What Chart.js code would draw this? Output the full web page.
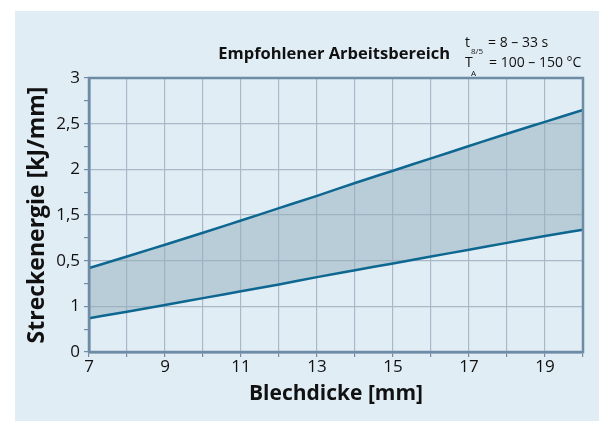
<!DOCTYPE html>
<html>
<head>
<meta charset="utf-8">
<script src="https://cdn.jsdelivr.net/npm/chart.js@4/dist/chart.umd.min.js"></script>
<style>
  html, body { margin: 0; padding: 0; background: #fff; }
  #panel { position: absolute; left: 15px; top: 11px; width: 584px; height: 410px; background: #e1edf5; }
</style>
</head>
<body>
<div id="panel"><canvas id="chart" width="584" height="410"></canvas></div>
<script>
// Blechdicke in mm
var thickness = [7, 8, 9, 10, 11, 12, 13, 14, 15, 16, 17, 18, 19, 20];
// Streckenergie, untere und obere Grenze (kJ/mm)
var lowerLimit = [0.37, 0.44, 0.515, 0.59, 0.665, 0.74, 0.82, 0.895, 0.97, 1.045, 1.12, 1.195, 1.27, 1.34];
var upperLimit = [0.92, 1.045, 1.175, 1.305, 1.44, 1.575, 1.71, 1.85, 1.985, 2.12, 2.255, 2.39, 2.52, 2.65];
// tick labels as printed in the chart
var xTickLabels = ['7', '9', '11', '13', '15', '17', '19'];
var yTickValues = [0, 0.5, 1, 1.5, 2, 2.5, 3];
var yTickLabels = ['0', '1', '0,5', '1,5', '2', '2,5', '3'];

var FONT = '"Open Sans", sans-serif';
var axisColor = '#6e8ca6';
var gridColor = '#a9b9c7';
var lineColor = '#0d6790';

function pts(ys) {
    return thickness.map(function (x, i) { return { x: x, y: ys[i] }; });
}

var frame = {
    id: 'frame',
    afterDatasetsDraw: function (chart) {
        var a = chart.chartArea, c = chart.ctx;
        c.save();
        c.strokeStyle = axisColor;
        c.lineWidth = 2.5;
        c.strokeRect(a.left, a.top, a.right - a.left, a.bottom - a.top);
        c.restore();
    },
    afterDraw: function (chart) {
        var c = chart.ctx;
        c.save();
        c.fillStyle = '#111';
        c.textBaseline = 'alphabetic';
        c.textAlign = 'right';
        c.font = 'bold 16.5px ' + FONT;
        c.fillText('Empfohlener Arbeitsbereich', 435, 48);
        c.textAlign = 'left';
        c.font = '14px ' + FONT;
        c.fillText('t', 450, 36);
        c.fillText('= 8 \u2013 33 s', 473, 36);
        c.fillText('T', 450, 56);
        c.fillText('= 100 \u2013 150 \u00b0C', 474, 56);
        c.font = '8px ' + FONT;
        c.fillText('8/5', 456, 43);
        c.fillText('A', 456, 65);
        c.restore();
    }
};

var ctx = document.getElementById('chart').getContext('2d');
var myChart = new Chart(ctx, {
    type: 'line',
    data: {
        datasets: [{
            label: 'untere Grenze',
            data: pts(lowerLimit),
            borderColor: lineColor,
            borderWidth: 2.5,
            pointRadius: 0,
            cubicInterpolationMode: 'monotone',
            fill: false
        }, {
            label: 'obere Grenze',
            data: pts(upperLimit),
            borderColor: lineColor,
            borderWidth: 2.5,
            pointRadius: 0,
            cubicInterpolationMode: 'monotone',
            fill: '-1',
            backgroundColor: 'rgba(145, 173, 187, 0.5)'
        }]
    },
    options: {
        responsive: false,
        animation: false,
        layout: { padding: { top: 67, right: 16, left: 0, bottom: 0 } },
        plugins: { legend: { display: false }, tooltip: { enabled: false } },
        scales: {
            x: {
                type: 'linear',
                min: 7,
                max: 20,
                ticks: {
                    stepSize: 1,
                    padding: 0,
                    color: '#111',
                    font: { family: FONT, size: 17 },
                    maxRotation: 0,
                    autoSkip: false,
                    callback: function (value) {
                        var s = String(value);
                        return xTickLabels.indexOf(s) >= 0 ? s : '';
                    }
                },
                grid: { color: gridColor, lineWidth: 1.2, tickLength: 5, tickColor: axisColor },
                border: { color: axisColor, width: 2.5 },
                title: {
                    display: true,
                    text: 'Blechdicke [mm]',
                    color: '#111',
                    font: { family: FONT, size: 21, weight: 'bold' },
                    padding: { top: 0, bottom: 14 }
                },
                afterFit: function (scale) { scale.height = 69; }
            },
            y: {
                min: 0,
                max: 3,
                ticks: {
                    stepSize: 0.25,
                    padding: 4,
                    color: '#111',
                    font: { family: FONT, size: 17 },
                    autoSkip: false,
                    callback: function (value) {
                        var i = yTickValues.indexOf(value);
                        return i >= 0 ? yTickLabels[i] : '';
                    }
                },
                grid: {
                    color: function (c) {
                        return c.tick && yTickValues.indexOf(c.tick.value) >= 0 ? gridColor : 'rgba(0,0,0,0)';
                    },
                    lineWidth: 1.2,
                    tickLength: 5,
                    tickColor: axisColor
                },
                border: { color: axisColor, width: 2.5 },
                title: {
                    display: true,
                    text: 'Streckenergie [kJ/mm]',
                    color: '#111',
                    font: { family: FONT, size: 23, weight: 'bold' },
                    padding: { top: 9, bottom: 0 }
                },
                afterFit: function (scale) { scale.width = 74; }
            }
        }
    },
    plugins: [frame]
});
</script>
</body>
</html>
